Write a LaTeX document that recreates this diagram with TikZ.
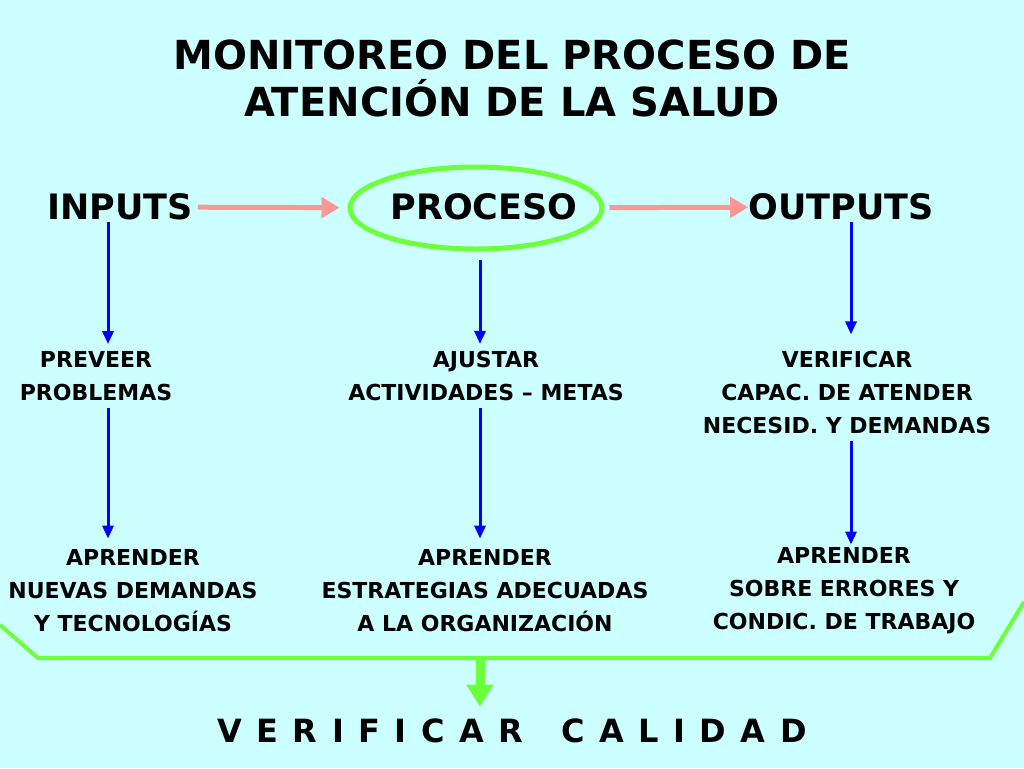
\documentclass[tikz,border=0pt]{standalone}
\usepackage{fontspec}
\setmainfont{DejaVu Sans}
\usetikzlibrary{arrows.meta,shapes.geometric}
\definecolor{bgCyan}{RGB}{204,255,255}
\definecolor{pGreen}{RGB}{110,255,60}
\definecolor{pPink}{RGB}{255,150,150}
\definecolor{pBlue}{RGB}{0,0,255}
\newcommand{\lgap}{\hspace{14.5pt}}

\begin{document}
\begin{tikzpicture}[x=1pt,y=-1pt,
    txt/.style={font=\bfseries\fontsize{22}{33}\selectfont, align=center, inner sep=0pt},
    head/.style={font=\bfseries\fontsize{35}{40}\selectfont, inner sep=0pt},
    bluearr/.style={-{Triangle[length=13pt,width=11pt]}, line width=3pt, pBlue},
    pinkarr/.style={-{Triangle[length=18pt,width=20pt]}, line width=5pt, pPink}]
    % Background and page size
    \fill[bgCyan] (0,0) rectangle (1024,768);
    \useasboundingbox (0,0) rectangle (1024,768);

    % Title
    \node[font=\bfseries\fontsize{40}{47}\selectfont, align=center] (title) at (512,78)
        {MONITOREO DEL PROCESO DE\\ATENCIÓN DE LA SALUD};

    % Top row
    \node[head] (inputs) at (120,207) {INPUTS};
    \node[draw=pGreen, line width=5pt, ellipse, minimum width=252pt, minimum height=82pt] (ring) at (476,208) {};
    \node[head] (proceso) at (484,207) {PROCESO};
    \node[head] (outputs) at (841,207) {OUTPUTS};
    \draw[pinkarr, shorten <=5pt, shorten >=8pt] (inputs) -- (ring);
    \draw[pinkarr, shorten <=5pt, shorten >=0pt] (ring) -- (outputs);

    % Middle row
    \node[txt] (preveer) at (96,376) {PREVEER\\PROBLEMAS};
    \node[txt] (ajustar) at (486,376) {AJUSTAR\\ACTIVIDADES – METAS};
    \node[txt] (verificar) at (847,392) {VERIFICAR\\CAPAC. DE ATENDER\\NECESID. Y DEMANDAS};

    % Bottom row
    \node[txt] (aprInputs) at (133,591) {APRENDER\\NUEVAS DEMANDAS\\Y TECNOLOGÍAS};
    \node[txt] (aprProceso) at (485,591) {APRENDER\\ESTRATEGIAS ADECUADAS\\A LA ORGANIZACIÓN};
    \node[txt] (aprOutputs) at (844,591) {APRENDER\\SOBRE ERRORES Y\\CONDIC. DE TRABAJO};

    % Blue arrows
    \draw[bluearr, shorten <=2pt, shorten >=7pt] ([xshift=-12pt]inputs.south) -- ([xshift=12pt]preveer.north);
    \draw[bluearr, shorten <=7pt, shorten >=11pt] ([xshift=12pt]preveer.south) -- ([xshift=-25pt]aprInputs.north);
    \draw[bluearr, shorten <=8pt, shorten >=7pt] ([xshift=4pt]ring.south) -- ([xshift=-6pt]ajustar.north);
    \draw[bluearr, shorten <=7pt, shorten >=11pt] ([xshift=-6pt]ajustar.south) -- ([xshift=-5pt]aprProceso.north);
    \draw[bluearr, shorten <=2pt, shorten >=16pt] ([xshift=10pt]outputs.south) -- ([xshift=4pt]verificar.north);
    \draw[bluearr, shorten <=7pt, shorten >=3pt] ([xshift=4pt]verificar.south) -- ([xshift=7pt]aprOutputs.north);

    % Green bracket and result
    \draw[pGreen, line width=4pt, line join=miter] (0,625) -- (38,658) -- (990,658) -- (1024,602);
    \coordinate (brk) at (480,658);
    \node[font=\bfseries\fontsize{32}{36}\selectfont, inner sep=0pt] (calidad) at (512,731)
        {V\lgap E\lgap R\lgap I\lgap F\lgap I\lgap C\lgap A\lgap R\hspace{38pt}C\lgap A\lgap L\lgap I\lgap D\lgap A\lgap D};
    \draw[pGreen, line width=9pt, -{Triangle[length=22pt,width=26pt]}, shorten >=12pt] (brk) -- (brk |- calidad.north);
\end{tikzpicture}
\end{document}
